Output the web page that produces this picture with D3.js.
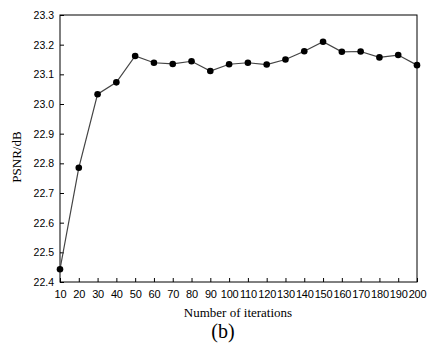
<!DOCTYPE html>
<html><head><meta charset="utf-8">
<script src="https://cdn.jsdelivr.net/npm/d3@7"></script>
<style>body{margin:0;background:#fff}svg{display:block}</style>
</head><body>
<script>
const iterations = [10,20,30,40,50,60,70,80,90,100,110,120,130,140,150,160,170,180,190,200];
const psnr = [22.443,22.785,23.033,23.073,23.162,23.139,23.135,23.144,23.111,23.134,23.139,23.133,23.150,23.178,23.210,23.176,23.177,23.157,23.165,23.131];
const yTicks = [22.4,22.5,22.6,22.7,22.8,22.9,23.0,23.1,23.2,23.3];
const xLabel = "Number of iterations";
const yLabel = "PSNR/dB";
const caption = "(b)";

const W=433,H=344;
const m={left:60,top:15,right:16,bottom:62};
const svg=d3.select("body").append("svg").attr("width",W).attr("height",H);
const x=d3.scaleLinear().domain([10,200]).range([m.left,W-m.right]);
const y=d3.scaleLinear().domain([22.4,23.3]).range([H-m.bottom,m.top]);
const tickFont="'Liberation Sans', Arial, sans-serif";
const serif="'Liberation Serif', 'Times New Roman', serif";

const gx=svg.append("g").attr("transform",`translate(0,${y(22.4)})`)
  .call(d3.axisBottom(x).tickValues(iterations).tickSizeInner(-4).tickSizeOuter(0).tickPadding(8).tickFormat(d3.format("d")));
const gy=svg.append("g").attr("transform",`translate(${x(10)},0)`)
  .call(d3.axisLeft(y).tickValues(yTicks).tickSizeInner(-4).tickSizeOuter(0).tickPadding(6).tickFormat(d3.format(".1f")));
[gx,gy].forEach(g=>{
  g.select(".domain").remove();
  g.selectAll("line").attr("stroke","#000");
  g.selectAll("text").attr("fill","#000").style("font-family",tickFont).style("font-size","10.5px");
});
gx.selectAll("text").style("font-size","11px").style("letter-spacing","-0.2px");
svg.append("rect").attr("x",x(10)).attr("y",y(23.3)).attr("width",x(200)-x(10)).attr("height",y(22.4)-y(23.3))
  .attr("fill","none").attr("stroke","#000").attr("stroke-width",1);

const line=d3.line().x((d,i)=>x(iterations[i])).y(d=>y(d));
svg.append("path").datum(psnr).attr("d",line).attr("fill","none").attr("stroke","#444").attr("stroke-width",1.2);
svg.selectAll("circle.pt").data(psnr).enter().append("circle").attr("class","pt")
  .attr("cx",(d,i)=>x(iterations[i])).attr("cy",d=>y(d)).attr("r",3.3).attr("fill","#000");

svg.append("text").attr("x",238).attr("y",317).attr("text-anchor","middle")
  .style("font-family",serif).style("font-size","13px").text(xLabel);
svg.append("text").attr("x",223).attr("y",338).attr("text-anchor","middle")
  .style("font-family",serif).style("font-size","20px").text(caption);
svg.append("text").attr("transform","translate(21,157) rotate(-90)").attr("text-anchor","middle")
  .style("font-family",serif).style("font-size","13px").text(yLabel);
</script>
</body></html>
